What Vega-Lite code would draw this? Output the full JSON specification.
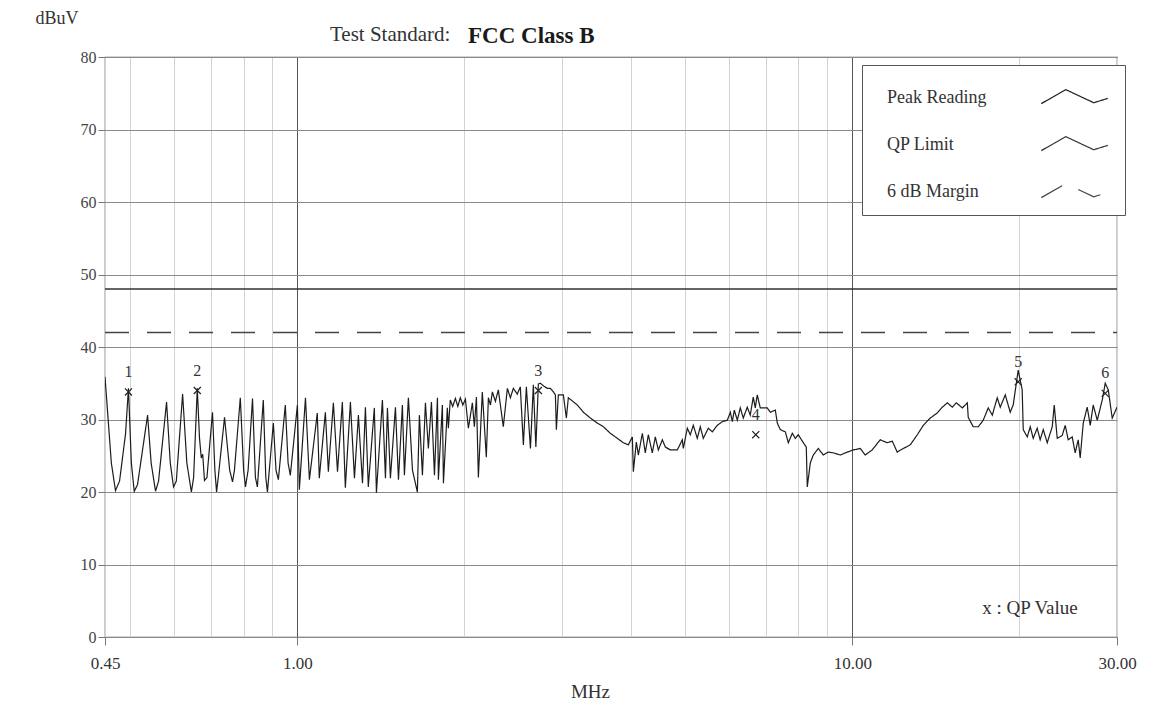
{
  "$schema": "https://vega.github.io/schema/vega-lite/v6.json",
  "width": 1012,
  "height": 580,
  "autosize": {"type": "none"},
  "padding": {"left": 105, "top": 57, "right": 41, "bottom": 80},
  "background": "white",
  "title": {"text": "Test Standard:", "anchor": "start", "dx": 295, "dy": 48, "offset": 12, "font": "Liberation Serif", "fontSize": 21, "fontWeight": "normal", "color": "#333"},
  "config": {
    "view": {"stroke": "#555", "strokeWidth": 1.2},
    "font": "Liberation Serif"
  },
  "datasets": {
    "trace": [
      {"freq": 0.450, "level": 35.9}, {"freq": 0.462, "level": 24.0}, {"freq": 0.470, "level": 20.2}, {"freq": 0.478, "level": 21.5},
      {"freq": 0.490, "level": 28.0}, {"freq": 0.496, "level": 34.3}, {"freq": 0.502, "level": 24.0}, {"freq": 0.508, "level": 20.1},
      {"freq": 0.515, "level": 21.0}, {"freq": 0.537, "level": 30.6}, {"freq": 0.545, "level": 24.0}, {"freq": 0.555, "level": 20.1},
      {"freq": 0.562, "level": 21.5}, {"freq": 0.581, "level": 32.4}, {"freq": 0.590, "level": 24.0}, {"freq": 0.598, "level": 20.7},
      {"freq": 0.605, "level": 21.5}, {"freq": 0.621, "level": 33.5}, {"freq": 0.632, "level": 24.0}, {"freq": 0.644, "level": 20.0},
      {"freq": 0.650, "level": 22.0}, {"freq": 0.660, "level": 34.3}, {"freq": 0.666, "level": 27.5}, {"freq": 0.671, "level": 24.7},
      {"freq": 0.675, "level": 25.2}, {"freq": 0.680, "level": 21.6}, {"freq": 0.687, "level": 22.0}, {"freq": 0.703, "level": 31.0},
      {"freq": 0.710, "level": 23.0}, {"freq": 0.715, "level": 20.0}, {"freq": 0.720, "level": 22.0}, {"freq": 0.739, "level": 30.3},
      {"freq": 0.755, "level": 23.0}, {"freq": 0.764, "level": 21.4}, {"freq": 0.770, "level": 23.0}, {"freq": 0.789, "level": 33.0},
      {"freq": 0.800, "level": 23.0}, {"freq": 0.806, "level": 20.7}, {"freq": 0.815, "level": 23.0}, {"freq": 0.830, "level": 32.9},
      {"freq": 0.840, "level": 22.0}, {"freq": 0.847, "level": 20.7}, {"freq": 0.868, "level": 32.7}, {"freq": 0.877, "level": 22.0},
      {"freq": 0.883, "level": 20.0}, {"freq": 0.905, "level": 29.5}, {"freq": 0.915, "level": 23.0}, {"freq": 0.924, "level": 21.7},
      {"freq": 0.951, "level": 32.0}, {"freq": 0.962, "level": 24.0}, {"freq": 0.971, "level": 22.3}, {"freq": 1.000, "level": 32.0},
      {"freq": 1.008, "level": 20.3}, {"freq": 1.034, "level": 33.0}, {"freq": 1.051, "level": 21.7}, {"freq": 1.086, "level": 30.9},
      {"freq": 1.095, "level": 21.9}, {"freq": 1.123, "level": 31.0}, {"freq": 1.137, "level": 22.8}, {"freq": 1.161, "level": 32.3},
      {"freq": 1.181, "level": 22.8}, {"freq": 1.205, "level": 32.4}, {"freq": 1.220, "level": 20.6}, {"freq": 1.246, "level": 32.4},
      {"freq": 1.267, "level": 21.9}, {"freq": 1.288, "level": 30.6}, {"freq": 1.310, "level": 21.2}, {"freq": 1.326, "level": 31.7},
      {"freq": 1.342, "level": 20.7}, {"freq": 1.376, "level": 31.6}, {"freq": 1.388, "level": 19.9}, {"freq": 1.423, "level": 32.7},
      {"freq": 1.441, "level": 21.9}, {"freq": 1.453, "level": 31.6}, {"freq": 1.471, "level": 21.9}, {"freq": 1.502, "level": 31.7},
      {"freq": 1.521, "level": 21.7}, {"freq": 1.546, "level": 32.0}, {"freq": 1.559, "level": 22.3}, {"freq": 1.585, "level": 33.0},
      {"freq": 1.612, "level": 23.0}, {"freq": 1.645, "level": 20.0}, {"freq": 1.659, "level": 30.6}, {"freq": 1.680, "level": 22.3},
      {"freq": 1.701, "level": 32.3}, {"freq": 1.722, "level": 26.0}, {"freq": 1.744, "level": 32.4}, {"freq": 1.766, "level": 22.3},
      {"freq": 1.788, "level": 33.0}, {"freq": 1.795, "level": 21.7}, {"freq": 1.825, "level": 32.0}, {"freq": 1.833, "level": 21.2},
      {"freq": 1.863, "level": 31.6}, {"freq": 1.871, "level": 28.8}, {"freq": 1.886, "level": 32.7}, {"freq": 1.905, "level": 31.8},
      {"freq": 1.926, "level": 32.9}, {"freq": 1.946, "level": 31.8}, {"freq": 1.966, "level": 33.0}, {"freq": 1.987, "level": 32.0},
      {"freq": 2.008, "level": 32.8}, {"freq": 2.033, "level": 28.8}, {"freq": 2.067, "level": 32.3}, {"freq": 2.084, "level": 29.0},
      {"freq": 2.102, "level": 33.1}, {"freq": 2.119, "level": 22.0}, {"freq": 2.154, "level": 33.8}, {"freq": 2.190, "level": 24.8},
      {"freq": 2.209, "level": 33.0}, {"freq": 2.228, "level": 32.0}, {"freq": 2.246, "level": 33.8}, {"freq": 2.274, "level": 32.5},
      {"freq": 2.302, "level": 34.1}, {"freq": 2.350, "level": 29.0}, {"freq": 2.390, "level": 34.3}, {"freq": 2.420, "level": 33.0},
      {"freq": 2.450, "level": 34.3}, {"freq": 2.490, "level": 33.5}, {"freq": 2.522, "level": 34.5}, {"freq": 2.554, "level": 26.5},
      {"freq": 2.586, "level": 34.5}, {"freq": 2.630, "level": 26.0}, {"freq": 2.662, "level": 34.8}, {"freq": 2.690, "level": 26.2},
      {"freq": 2.718, "level": 34.9}, {"freq": 2.741, "level": 35.0}, {"freq": 2.780, "level": 34.6}, {"freq": 2.822, "level": 34.3},
      {"freq": 2.857, "level": 34.3}, {"freq": 2.893, "level": 33.8}, {"freq": 2.917, "level": 33.4}, {"freq": 2.929, "level": 28.6},
      {"freq": 2.953, "level": 33.4}, {"freq": 3.015, "level": 33.4}, {"freq": 3.053, "level": 30.2}, {"freq": 3.078, "level": 33.0},
      {"freq": 3.195, "level": 32.0}, {"freq": 3.276, "level": 31.0}, {"freq": 3.373, "level": 30.2}, {"freq": 3.472, "level": 29.5},
      {"freq": 3.560, "level": 29.0}, {"freq": 3.664, "level": 28.1}, {"freq": 3.772, "level": 27.4}, {"freq": 3.867, "level": 26.8},
      {"freq": 3.948, "level": 26.5}, {"freq": 4.015, "level": 27.6}, {"freq": 4.031, "level": 22.8}, {"freq": 4.082, "level": 26.9},
      {"freq": 4.116, "level": 25.1}, {"freq": 4.185, "level": 28.1}, {"freq": 4.236, "level": 25.4}, {"freq": 4.290, "level": 27.9},
      {"freq": 4.361, "level": 25.4}, {"freq": 4.416, "level": 27.6}, {"freq": 4.472, "level": 25.8}, {"freq": 4.547, "level": 27.2},
      {"freq": 4.604, "level": 26.2}, {"freq": 4.700, "level": 25.8}, {"freq": 4.838, "level": 25.8}, {"freq": 4.940, "level": 27.2},
      {"freq": 4.960, "level": 26.0}, {"freq": 5.043, "level": 28.8}, {"freq": 5.106, "level": 27.9}, {"freq": 5.170, "level": 29.2},
      {"freq": 5.256, "level": 27.4}, {"freq": 5.322, "level": 29.0}, {"freq": 5.389, "level": 27.4}, {"freq": 5.502, "level": 28.8},
      {"freq": 5.594, "level": 28.3}, {"freq": 5.712, "level": 29.2}, {"freq": 5.832, "level": 29.7}, {"freq": 5.954, "level": 29.9},
      {"freq": 6.029, "level": 31.0}, {"freq": 6.079, "level": 29.7}, {"freq": 6.129, "level": 31.3}, {"freq": 6.206, "level": 29.9},
      {"freq": 6.283, "level": 31.6}, {"freq": 6.362, "level": 30.2}, {"freq": 6.468, "level": 31.7}, {"freq": 6.549, "level": 30.6},
      {"freq": 6.631, "level": 33.1}, {"freq": 6.686, "level": 31.6}, {"freq": 6.742, "level": 33.4}, {"freq": 6.826, "level": 31.6},
      {"freq": 7.027, "level": 31.6}, {"freq": 7.117, "level": 31.0}, {"freq": 7.266, "level": 31.3}, {"freq": 7.327, "level": 29.5},
      {"freq": 7.419, "level": 28.6}, {"freq": 7.574, "level": 28.3}, {"freq": 7.669, "level": 26.8}, {"freq": 7.797, "level": 28.1},
      {"freq": 7.895, "level": 27.4}, {"freq": 7.993, "level": 27.9}, {"freq": 8.161, "level": 26.8}, {"freq": 8.263, "level": 26.2},
      {"freq": 8.297, "level": 20.7}, {"freq": 8.401, "level": 24.0}, {"freq": 8.506, "level": 25.1}, {"freq": 8.685, "level": 26.0},
      {"freq": 8.867, "level": 25.1}, {"freq": 9.054, "level": 25.5}, {"freq": 9.244, "level": 25.4}, {"freq": 9.515, "level": 25.1},
      {"freq": 9.795, "level": 25.5}, {"freq": 10.04, "level": 25.8}, {"freq": 10.34, "level": 26.0}, {"freq": 10.55, "level": 25.1},
      {"freq": 10.86, "level": 25.8}, {"freq": 11.23, "level": 27.2}, {"freq": 11.56, "level": 26.8}, {"freq": 11.81, "level": 27.0},
      {"freq": 12.05, "level": 25.5}, {"freq": 12.36, "level": 26.0}, {"freq": 12.72, "level": 26.5}, {"freq": 13.10, "level": 27.9},
      {"freq": 13.43, "level": 29.2}, {"freq": 13.82, "level": 30.2}, {"freq": 14.23, "level": 30.9}, {"freq": 14.53, "level": 31.7},
      {"freq": 14.84, "level": 32.3}, {"freq": 15.15, "level": 31.7}, {"freq": 15.40, "level": 32.3}, {"freq": 15.79, "level": 31.6},
      {"freq": 16.12, "level": 32.3}, {"freq": 16.18, "level": 30.3}, {"freq": 16.52, "level": 29.0}, {"freq": 16.87, "level": 29.0},
      {"freq": 17.22, "level": 29.9}, {"freq": 17.58, "level": 31.6}, {"freq": 17.88, "level": 30.6}, {"freq": 18.25, "level": 33.0},
      {"freq": 18.48, "level": 31.7}, {"freq": 18.87, "level": 33.4}, {"freq": 19.26, "level": 31.0}, {"freq": 19.50, "level": 32.0},
      {"freq": 19.91, "level": 36.8}, {"freq": 20.24, "level": 34.1}, {"freq": 20.33, "level": 28.6}, {"freq": 20.67, "level": 27.6},
      {"freq": 20.93, "level": 29.0}, {"freq": 21.19, "level": 27.4}, {"freq": 21.54, "level": 28.8}, {"freq": 21.81, "level": 27.2},
      {"freq": 22.09, "level": 28.6}, {"freq": 22.46, "level": 26.8}, {"freq": 22.93, "level": 29.0}, {"freq": 23.12, "level": 32.0},
      {"freq": 23.41, "level": 27.4}, {"freq": 23.90, "level": 27.8}, {"freq": 24.20, "level": 29.2}, {"freq": 24.50, "level": 27.2},
      {"freq": 24.91, "level": 27.6}, {"freq": 25.22, "level": 25.4}, {"freq": 25.54, "level": 27.2}, {"freq": 25.75, "level": 24.7},
      {"freq": 26.08, "level": 29.5}, {"freq": 26.51, "level": 31.7}, {"freq": 26.85, "level": 29.2}, {"freq": 27.18, "level": 32.0},
      {"freq": 27.64, "level": 29.9}, {"freq": 28.22, "level": 32.7}, {"freq": 28.57, "level": 35.0}, {"freq": 28.93, "level": 34.1},
      {"freq": 29.41, "level": 30.2}, {"freq": 30.00, "level": 31.7}
    ],
    "limits": [
      {"series": "QP Limit", "freq": 0.45, "level": 48},
      {"series": "QP Limit", "freq": 30, "level": 48},
      {"series": "6 dB Margin", "freq": 0.45, "level": 42},
      {"series": "6 dB Margin", "freq": 30, "level": 42}
    ],
    "markers": [
      {"no": "1", "freq": 0.496, "qp": 33.8},
      {"no": "2", "freq": 0.660, "qp": 34.0},
      {"no": "3", "freq": 2.718, "qp": 34.0},
      {"no": "4", "freq": 6.70, "qp": 27.9},
      {"no": "5", "freq": 19.91, "qp": 35.2},
      {"no": "6", "freq": 28.57, "qp": 33.6}
    ],
    "notes": [
      {"note": "x : QP Value", "freq": 20.9, "level": 3.2}
    ],
    "standard": [
      {"note": "FCC Class B", "freq": 2.03, "level": 82.0}
    ]
  },
  "encoding": {
    "x": {
      "field": "freq", "type": "quantitative",
      "scale": {"type": "log", "domain": [0.45, 30], "nice": false},
      "axis": {
        "title": "MHz",
        "values": [0.45, 0.5, 0.6, 0.7, 0.8, 0.9, 1, 2, 3, 4, 5, 6, 7, 8, 9, 10, 20, 30],
        "labelExpr": "datum.value == 0.45 || datum.value == 1 || datum.value == 10 || datum.value == 30 ? format(datum.value, '.2f') : ''",
        "grid": true,
        "gridColor": {"condition": {"test": "datum.value == 1 || datum.value == 10", "value": "#555"}, "value": "#d2d2d2"},
        "gridWidth": 1,
        "tickColor": {"condition": {"test": "datum.value == 0.45 || datum.value == 1 || datum.value == 10 || datum.value == 30", "value": "#777"}, "value": "transparent"},
        "tickSize": 8,
        "domain": false,
        "labelFont": "Liberation Serif", "labelFontSize": 17, "labelColor": "#333",
        "labelPadding": 10, "labelFlush": false, "labelOverlap": false,
        "titleFont": "Liberation Serif", "titleFontSize": 19, "titleFontWeight": "normal", "titleColor": "#333",
        "titleX": 485, "titleY": 60, "titleAlign": "center", "titleBaseline": "alphabetic"
      }
    },
    "y": {
      "field": "level", "type": "quantitative",
      "scale": {"domain": [0, 80], "nice": false},
      "axis": {
        "title": "dBuV",
        "values": [0, 10, 20, 30, 40, 50, 60, 70, 80],
        "grid": true, "gridColor": "#8a8a8a", "gridWidth": 1,
        "domain": false,
        "tickSize": 7, "tickColor": "#777",
        "labelFont": "Liberation Serif", "labelFontSize": 16, "labelColor": "#444", "labelPadding": 2,
        "titleFont": "Liberation Serif", "titleFontSize": 18, "titleFontWeight": "normal", "titleColor": "#333",
        "titleAngle": 0, "titleX": -70, "titleY": -34, "titleAlign": "left", "titleBaseline": "alphabetic"
      }
    }
  },
  "layer": [
    {
      "data": {"name": "limits"},
      "mark": {"type": "line", "strokeWidth": 1.4, "clip": true},
      "encoding": {
        "color": {"field": "series", "type": "nominal", "title": null},
        "strokeDash": {"field": "series", "type": "nominal", "title": null}
      }
    },
    {
      "data": {"name": "trace"},
      "mark": {"type": "line", "strokeWidth": 1.2, "clip": true},
      "encoding": {
        "color": {
          "datum": "Peak Reading", "type": "nominal", "title": null,
          "scale": {"domain": ["Peak Reading", "QP Limit", "6 dB Margin"], "range": ["#1c1c1c", "#333333", "#444444"]},
          "legend": {
            "title": null,
            "orient": "none", "legendX": 757, "legendY": 8, "direction": "vertical",
            "strokeColor": "#555", "fillColor": "white", "padding": 14,
            "symbolType": "M-1.9,0.35L-0.5,-0.45L1.1,0.3L1.9,0.05",
            "symbolSize": 1225, "symbolStrokeWidth": 1.2, "symbolOffset": 180,
            "labelOffset": -206, "labelAlign": "left",
            "labelFont": "Liberation Serif", "labelFontSize": 18, "labelColor": "#333",
            "rowPadding": 19, "labelLimit": 200
          }
        },
        "strokeDash": {
          "datum": "Peak Reading", "type": "nominal", "title": null,
          "scale": {"domain": ["Peak Reading", "QP Limit", "6 dB Margin"], "range": [[1, 0], [1, 0], [24, 18]]},
          "legend": {
            "title": null,
            "orient": "none", "legendX": 757, "legendY": 8, "direction": "vertical",
            "strokeColor": "#555", "fillColor": "white", "padding": 14,
            "symbolType": "M-1.9,0.35L-0.5,-0.45L1.1,0.3L1.9,0.05",
            "symbolSize": 1225, "symbolStrokeWidth": 1.2, "symbolOffset": 180,
            "labelOffset": -206, "labelAlign": "left",
            "labelFont": "Liberation Serif", "labelFontSize": 18, "labelColor": "#333",
            "rowPadding": 19, "labelLimit": 200
          }
        }
      }
    },
    {
      "data": {"name": "markers"},
      "mark": {"type": "point", "shape": "M-1,-1L1,1M-1,1L1,-1", "size": 50, "filled": false, "stroke": "#222", "strokeWidth": 1.2, "opacity": 1},
      "encoding": {
        "y": {"field": "qp", "type": "quantitative"}
      }
    },
    {
      "data": {"name": "markers"},
      "mark": {"type": "text", "dy": -20, "font": "Liberation Serif", "fontSize": 16, "color": "#333", "baseline": "middle"},
      "encoding": {
        "y": {"field": "qp", "type": "quantitative"},
        "text": {"field": "no"}
      }
    },
    {
      "data": {"name": "notes"},
      "mark": {"type": "text", "font": "Liberation Serif", "fontSize": 19, "color": "#333", "align": "center", "baseline": "alphabetic"},
      "encoding": {
        "text": {"field": "note"}
      }
    },
    {
      "data": {"name": "standard"},
      "mark": {"type": "text", "font": "Liberation Serif", "fontSize": 23, "fontWeight": "bold", "color": "#1a1a1a", "align": "left", "baseline": "alphabetic", "clip": false},
      "encoding": {
        "text": {"field": "note"}
      }
    }
  ]
}
